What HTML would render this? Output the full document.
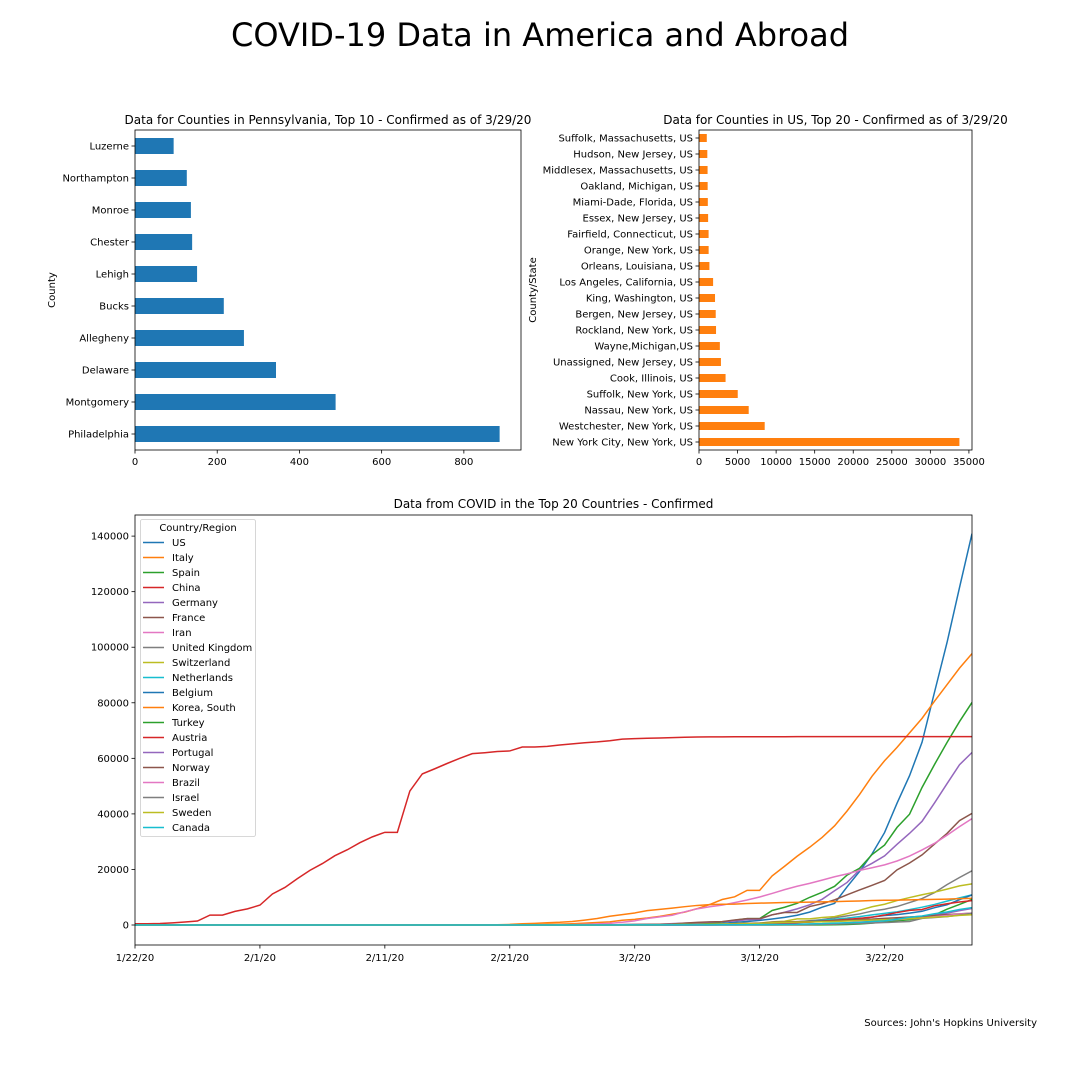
<!DOCTYPE html>
<html><head><meta charset="utf-8"><style>
body{margin:0;background:#fff;width:1080px;height:1080px;overflow:hidden}
svg text{font-family:"DejaVu Sans","Liberation Sans",sans-serif;fill:#000}
</style></head><body>
<svg id="fig" width="1080" height="1080" xmlns="http://www.w3.org/2000/svg">
<rect width="1080" height="1080" fill="#fff"/>
<text x="540" y="46" font-size="32" text-anchor="middle">COVID-19 Data in America and Abroad</text>
<text x="1037" y="1026" font-size="10" text-anchor="end">Sources: John's Hopkins University</text>
<g id="c1"></g>
<g id="c2"></g>
<g id="c3"></g>
</svg>
<script>
const paCounties=["Philadelphia","Montgomery","Delaware","Allegheny","Bucks","Lehigh","Chester","Monroe","Northampton","Luzerne"];
const paValues=[887,488,343,265,216,151,139,136,126,94];
const paTicks=[0,200,400,600,800];
const usCounties=["New York City, New York, US","Westchester, New York, US","Nassau, New York, US","Suffolk, New York, US","Cook, Illinois, US","Unassigned, New Jersey, US","Wayne,Michigan,US","Rockland, New York, US","Bergen, New Jersey, US","King, Washington, US","Los Angeles, California, US","Orleans, Louisiana, US","Orange, New York, US","Fairfield, Connecticut, US","Essex, New Jersey, US","Miami-Dade, Florida, US","Oakland, Michigan, US","Middlesex, Massachusetts, US","Hudson, New Jersey, US","Suffolk, Massachusetts, US"];
const usValues=[33768,8519,6445,5023,3445,2846,2704,2209,2169,2077,1829,1350,1250,1245,1183,1143,1122,1113,1078,1010];
const usTicks=[0,5000,10000,15000,20000,25000,30000,35000];
const dateTicks=["1/22/20","2/1/20","2/11/20","2/21/20","3/2/20","3/12/20","3/22/20"];
const yTicks=[0,20000,40000,60000,80000,100000,120000,140000];
const countries=["US","Italy","Spain","China","Germany","France","Iran","United Kingdom","Switzerland","Netherlands","Belgium","Korea, South","Turkey","Austria","Portugal","Norway","Brazil","Israel","Sweden","Canada"];
// each series lists the most recent days ending 3/29/20 (earlier days are 0)
const sUS=[1,1,2,2,5,5,5,5,5,7,8,8,11,11,11,11,11,11,11,11,12,12,13,13,13,13,13,13,13,13,15,15,15,51,51,57,58,60,68,74,98,118,149,217,262,402,518,583,959,1281,1663,2179,2727,3499,4632,6421,7783,13747,19273,25600,33276,43847,53740,65778,83836,101657,121478,140886];
const sItaly=[20,62,155,229,322,453,655,888,1128,1694,2036,2502,3089,3858,4636,5883,7375,9172,10149,12462,12462,17660,21157,24747,27980,31506,35713,41035,47021,53578,59138,63927,69176,74386,80589,86498,92472,97689];
const sSpain=[6,13,15,32,45,84,120,165,222,259,400,500,673,1073,1695,2277,2277,5232,6391,7798,9942,11748,13910,17963,20410,25374,28768,35136,39885,49515,57786,65719,73235,80110];
const sChina=[444,444,549,761,1058,1423,3554,3554,4903,5806,7153,11177,13522,16678,19665,22112,24953,27100,29631,31728,33366,33366,48206,54406,56249,58182,59989,61682,62031,62442,62662,64084,64084,64287,64786,65187,65596,65914,66337,66907,67103,67217,67332,67466,67592,67666,67707,67743,67760,67773,67781,67786,67790,67794,67798,67799,67800,67800,67800,67800,67801,67801,67801,67801,67801,67801,67801,67801];
const sGermany=[130,159,196,262,482,670,799,1040,1176,1457,1908,2078,3675,4585,5795,7272,9257,12327,15320,19848,22213,24873,29056,32986,37323,43938,50871,57695,62095];
const sFrance=[130,191,204,288,380,656,957,1134,1217,1792,2281,2281,3668,4480,4513,6635,7652,9043,10871,12612,14282,16018,19856,22304,25233,29155,32964,37575,40174];
const sIran=[2,5,18,28,43,61,95,139,245,388,593,978,1501,2336,2922,3513,4747,5823,6566,7161,8042,9000,10075,11364,12729,13938,14991,16169,17361,18407,19644,20610,21638,23049,24811,27017,29406,32332,35408,38309];
const sUK=[36,40,51,86,116,164,207,274,322,384,459,459,802,1144,1145,1551,1950,2626,3269,3983,5018,5683,6650,8077,9529,11658,14543,17089,19522];
const sSwitz=[27,42,56,90,114,214,268,337,374,491,652,652,1139,1359,2200,2200,2700,3028,4075,5294,6575,7474,8795,9877,10897,11811,12928,14076,14829];
const sNeth=[10,18,24,38,82,128,188,265,321,382,503,503,806,962,1138,1413,1705,2051,2460,2994,3631,4204,4749,5560,6412,7407,8603,9762,10866];
const sBelgium=[2,8,13,23,50,109,169,200,239,267,314,314,559,689,886,1058,1243,1486,1795,2257,2815,3401,3743,4269,4937,6235,7284,9134,10836];
const sKorea=[31,31,104,204,433,602,833,977,1261,1766,2337,3150,3736,4335,5186,5621,6088,6593,7041,7314,7478,7513,7755,7869,7979,8086,8162,8236,8320,8413,8565,8652,8799,8897,8961,9037,9137,9241,9332,9478,9583];
const sTurkey=[1,1,5,5,6,18,47,98,192,359,670,1236,1529,1872,2433,3629,5698,7402,9217];
const sAustria=[14,18,21,29,41,55,79,104,131,182,246,302,504,655,860,1018,1332,1646,2013,2388,2814,3582,4474,5283,5588,6909,7657,8271,8788];
const sPortugal=[2,2,5,8,13,20,30,30,41,59,59,112,169,245,331,448,785,1020,1280,1600,2060,2362,2995,3544,4268,5170,5962];
const sNorway=[19,25,32,56,87,108,147,176,205,400,598,702,996,1090,1221,1333,1463,1550,1746,1914,2118,2385,2621,2863,3084,3369,3755,4015,4284];
const sBrazil=[8,13,13,20,25,31,38,52,151,151,162,200,321,372,621,793,1021,1546,1924,2247,2554,2985,3417,3904,4256];
const sIsrael=[10,10,12,15,15,17,21,39,50,75,75,100,126,161,200,250,304,427,529,712,883,1071,1238,2369,2693,3035,3619,4247];
const sSweden=[14,15,30,52,94,101,161,203,248,355,500,599,814,961,1022,1103,1190,1279,1439,1639,1763,1934,2046,2286,2526,2840,3069,3447,3700];
const sCanada=[24,27,33,34,37,49,54,64,77,79,108,117,193,198,252,415,478,657,800,943,1277,1469,2088,2790,3251,4042,4682,5576,6280];
const series=[sUS,sItaly,sSpain,sChina,sGermany,sFrance,sIran,sUK,sSwitz,sNeth,sBelgium,sKorea,sTurkey,sAustria,sPortugal,sNorway,sBrazil,sIsrael,sSweden,sCanada];
const NDAYS=68;

const NS="http://www.w3.org/2000/svg";
function mk(parent,tag,attrs,text){const e=document.createElementNS(NS,tag);for(const k in attrs)e.setAttribute(k,attrs[k]);if(text!==undefined)e.textContent=text;parent.appendChild(e);return e;}
const pal=["#1f77b4","#ff7f0e","#2ca02c","#d62728","#9467bd","#8c564b","#e377c2","#7f7f7f","#bcbd22","#17becf"];

function barChart(g,cats,vals,ticks,L,T,R,B,xmax,color,title,ylabel,labelSize){
  const x=v=>L+(v/xmax)*(R-L);
  const n=cats.length, step=(B-T)/n;
  const t=mk(g,'text',{x:(L+R)/2,y:T-6,'font-size':12,'text-anchor':'middle'},title);
  
  cats.forEach((c,i)=>{
    const cy=B-step*(i+0.5);
    const r=mk(g,'rect',{x:L,y:cy-step/4,width:x(vals[i])-L,height:step/2,fill:color});
    
    
    mk(g,'line',{x1:L-3.5,x2:L,y1:cy,y2:cy,stroke:'#000','stroke-width':0.8});
    const lt=mk(g,'text',{x:L-6,y:cy+3.5,'font-size':labelSize,'text-anchor':'end'},c);
    
  });
  ticks.forEach(v=>{
    const xx=x(v);
    mk(g,'line',{x1:xx,x2:xx,y1:B,y2:B+3.5,stroke:'#000','stroke-width':0.8});
    const tt=mk(g,'text',{x:xx,y:B+15,'font-size':10,'text-anchor':'middle'},String(v));
    
  });
  mk(g,'rect',{x:L,y:T,width:R-L,height:B-T,fill:'none',stroke:'#000','stroke-width':0.8});
  const yl=mk(g,'text',{x:0,y:0,'font-size':10,'text-anchor':'middle',transform:`translate(${L===135?55:536},${(T+B)/2}) rotate(-90)`},ylabel);
  
}
barChart(document.getElementById('c1'),paCounties,paValues,paTicks,135,130,521,450,939,'#1f77b4','Data for Counties in Pennsylvania, Top 10 - Confirmed as of 3/29/20','County',10);
barChart(document.getElementById('c2'),usCounties,usValues,usTicks,699,130,972,450,35400,'#ff7f0e','Data for Counties in US, Top 20 - Confirmed as of 3/29/20','County/State',10);

(function(){
  const g=document.getElementById('c3');
  const L=135,T=515,R=972,B=945,ymin=-7200,ymax=147600;
  const x=i=>L+i*(R-L)/(NDAYS-1);
  const y=v=>B-(v-ymin)/(ymax-ymin)*(B-T);
  const t=mk(g,'text',{x:(L+R)/2,y:T-7,'font-size':12,'text-anchor':'middle'},'Data from COVID in the Top 20 Countries - Confirmed');
  
  const clip=mk(g,'clipPath',{id:'clp'});mk(clip,'rect',{x:L,y:T,width:R-L,height:B-T});
  const lg=mk(g,'g',{'clip-path':'url(#clp)'});
  series.forEach((s,k)=>{
    const off=NDAYS-s.length;
    let d='';
    for(let i=0;i<NDAYS;i++){const v=i<off?0:s[i-off];d+=(i?'L':'M')+x(i).toFixed(2)+','+y(v).toFixed(2);}
    const p=mk(lg,'path',{d:d,fill:'none',stroke:pal[k%10],'stroke-width':1.5});
    
    
  });
  yTicks.forEach(v=>{
    mk(g,'line',{x1:L-3.5,x2:L,y1:y(v),y2:y(v),stroke:'#000','stroke-width':0.8});
    const tt=mk(g,'text',{x:L-6,y:y(v)+3.5,'font-size':10,'text-anchor':'end'},String(v));
    
  });
  dateTicks.forEach((d,i)=>{
    const xx=x(i*10);
    mk(g,'line',{x1:xx,x2:xx,y1:B,y2:B+3.5,stroke:'#000','stroke-width':0.8});
    const tt=mk(g,'text',{x:xx,y:B+16,'font-size':10,'text-anchor':'middle'},d);
    
  });
  mk(g,'rect',{x:L,y:T,width:R-L,height:B-T,fill:'none',stroke:'#000','stroke-width':0.8});
  const leg=mk(g,'g',{});
  
  mk(leg,'rect',{x:140.5,y:519.5,width:115,height:317,rx:2,fill:'#fff',stroke:'#ccc','stroke-width':0.8});
  mk(leg,'text',{x:198,y:531,'font-size':10,'text-anchor':'middle'},'Country/Region');
  countries.forEach((c,k)=>{
    const yy=542.5+k*15;
    const e=mk(leg,'g',{});
    
    
    mk(e,'line',{x1:143,x2:164,y1:yy,y2:yy,stroke:pal[k%10],'stroke-width':1.5});
    mk(e,'text',{x:172,y:yy+3.5,'font-size':10},c);
  });
})();
</script>
</body></html>
